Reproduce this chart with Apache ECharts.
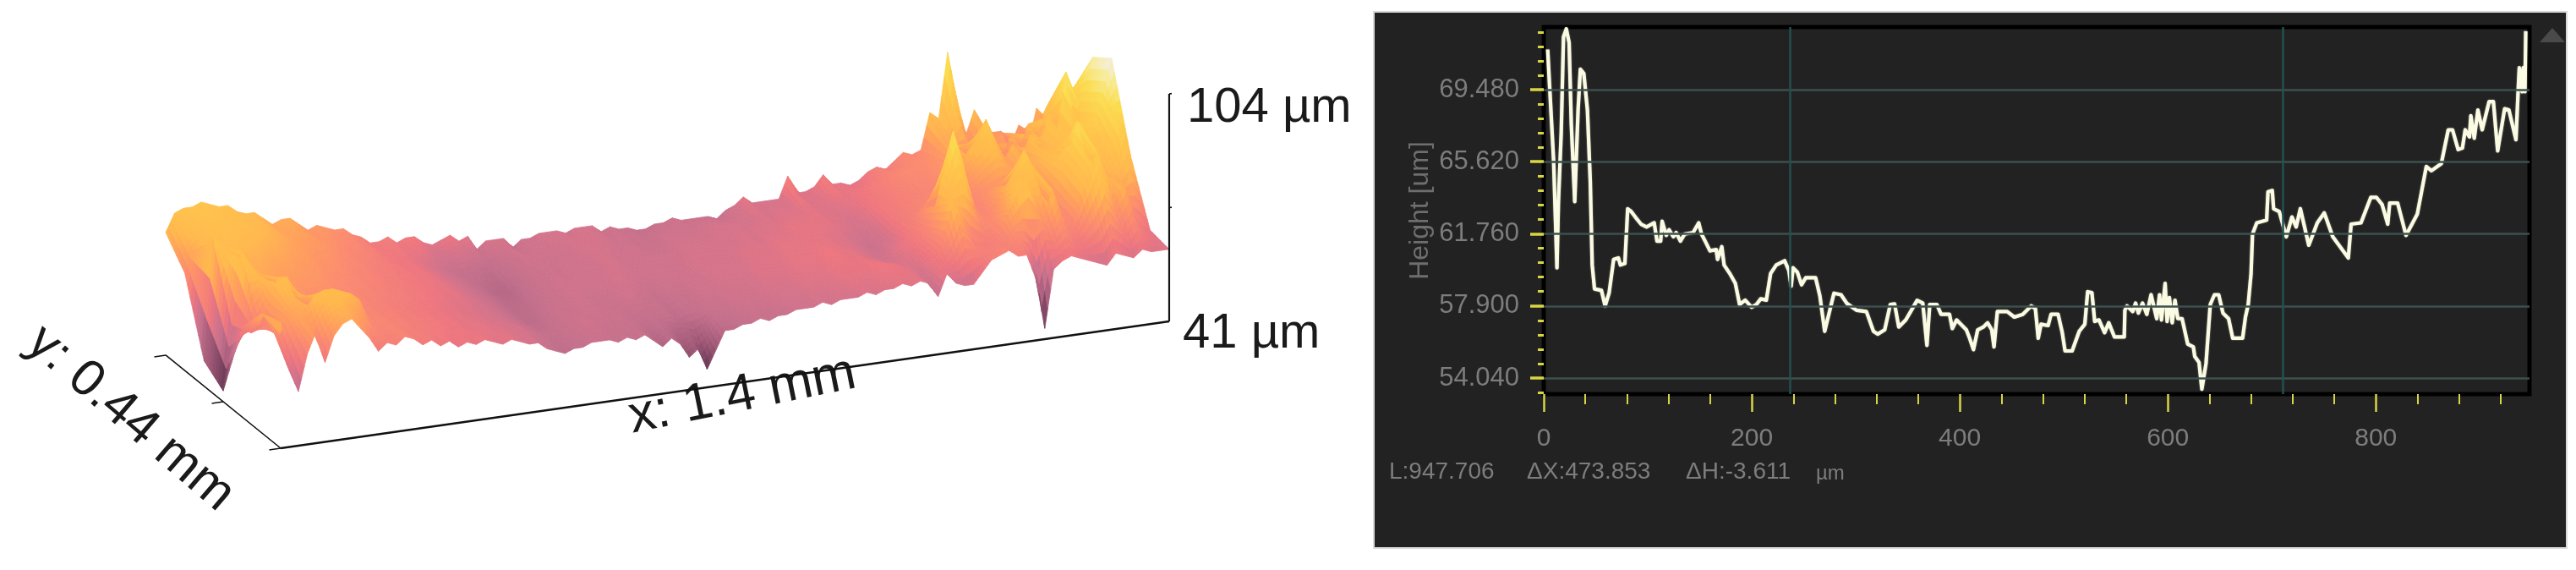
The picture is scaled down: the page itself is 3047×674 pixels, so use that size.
<!DOCTYPE html>
<html>
<head>
<meta charset="utf-8">
<style>html,body{margin:0;padding:0;background:#fff}#c{width:3047px;height:674px}</style>
<script src="https://cdn.jsdelivr.net/npm/echarts@6/dist/echarts.min.js"></script>
</head>
<body>
<div id="c"></div>
<script>
// ---------- height profile (right panel) ----------
const profileX = [3.8,6,9.5,12.7,14.1,16.8,19,21.7,24.4,26.5,29.8,33,35.2,38.5,42,44.7,46.6,48.8,55.5,59,62.8,67.2,71.8,73.7,78,80.7,84,88,93.5,98.9,106.2,108.9,112.4,113.8,117.8,120.5,124.6,127.3,131.4,135.5,143.6,149,151.7,155.8,159.8,165.8,167.1,171.2,173.4,178.8,184.2,188.3,193.7,199.9,204.5,208.6,214,218.1,223.5,231.6,235.7,237.9,239.7,243.8,247.9,251.9,261.4,265.5,270.1,279,285.8,291.2,300.7,310.2,317,321,327.8,333.2,337.3,341.3,348.1,359,364.4,368.4,371.1,377.9,382,390.1,392.8,396.9,406.3,409,413.1,417.2,422.6,426.7,430.7,432.9,436.1,445.6,452.4,460.5,468.7,472.7,475.4,478.1,484.9,487.7,494.5,498.5,501.2,508,514.8,520.2,522.9,527,529.7,533.8,539.2,543.2,548.7,558.1,558.7,560.8,566.3,569,571.7,575.7,579.8,583.9,589.3,592,593.9,597.4,599.3,601.5,604.2,606.9,609.6,613.7,619.1,624.5,625.9,630,632.7,636.7,640.8,644.8,648.9,653,658.4,662.4,671.9,674.6,677.3,680,681.4,685.5,695,696.3,700.4,701.7,707.1,713.9,719.3,723.4,727.4,735.5,743.7,750.4,758.6,773.5,776.2,785.7,795.1,800.6,806,811.4,813.3,820.9,829,839.8,843.9,848.5,853.4,862.9,869.6,873.7,879.1,883.2,885.9,890,891.3,894.6,898.1,902.2,908.9,913,917.1,923.8,927.9,934.7,936.8,937.9,940.6,941.7,943.3,944.1];
const profileH = [71.63,69.29,65.67,59.94,63.41,67.18,72.31,72.73,72,67.63,63.48,68.39,70.57,70.35,68.39,64.62,60.09,58.81,58.73,57.9,58.58,60.39,60.47,60.09,60.17,63.1,62.96,62.66,62.28,62.13,62.35,61.37,61.37,62.43,61.68,61.98,61.6,61.83,61.37,61.75,61.83,62.35,61.75,61.3,60.85,60.92,60.39,61.07,60.09,59.64,59.11,57.98,58.21,57.83,57.98,58.28,58.21,59.64,60.09,60.32,59.79,58.96,59.94,59.71,59.03,59.41,59.41,58.43,56.54,58.58,58.5,58.05,57.67,57.6,56.54,56.39,56.62,57.98,58.01,56.77,57.15,58.2,58.05,55.79,57.98,57.98,57.45,57.45,56.69,57.15,56.62,56.24,55.56,56.62,56.77,57,56.62,55.71,57.6,57.6,57.3,57.45,57.9,57.75,56.17,56.92,56.85,57.45,57.45,56.47,55.49,55.49,56.54,56.92,58.66,58.61,57.07,57.15,56.47,57,56.24,56.24,57.67,57.9,57.6,58.05,57.52,58.05,57.45,58.5,57.22,58.5,57.15,59.11,57.07,58.35,57,58.2,57.22,57.22,55.86,55.71,55.19,54.88,53.45,54.81,57.98,58.5,58.5,57.52,57.22,56.17,56.17,57.3,57.98,59.63,61.75,62.35,62.5,64.01,64.08,63.1,62.95,61.6,62.66,62.13,63.11,61.15,62.35,62.88,61.6,60.47,62.28,62.35,63.71,63.71,63.33,62.28,63.41,63.41,61.68,62.81,64.01,65.37,65.14,65.52,67.33,67.33,66.27,66.35,67.33,66.95,68.08,66.88,68.39,67.33,68.84,68.84,66.2,68.46,68.39,66.8,69.44,70.65,69.37,70.65,69.37,72.61];
const cursorX = [236.93,710.78];
const profileXTicks = [0,200,400,600,800];
const profileXMinor = [40,80,120,160,240,280,320,360,440,480,520,560,640,680,720,760,840,880,920];
const profileYTicks = [54.04,57.9,61.76,65.62,69.48];
const profileYMinor = [53.268,54.812,55.584,56.356,57.128,58.672,59.444,60.216,60.988,62.532,63.304,64.076,64.848,66.392,67.164,67.936,68.708,70.252,71.024,71.796,72.568];

// ---------- 3D surface heights in um: one array per y position, 14 um apart in x ----------
const surfaceStepX = 14;
const surfaceYs = [0,73,147,220,293,367,440];
const surfaceY0 = [76,62,56,66,72,63,70,73,74,71,68,64,66,65,67,66,64,65,63,64,62,63,62,63,62,61,62,61,60,60,58,57,56,57,57,58,58,58,57,58,57,58,56,54,56,54,50,52,46,51,56,56,57,57,58,57,58,58,59,59,59,60,59,60,60,60,61,60,61,61,62,61,62,61,57,63,60,59,59,62,65,66,67,65,65,58,44,60,62,63,62,61,60,59,62,61,60,62,61,61,61];
const surfaceY1 = [74,71,67,72,73,74,77,78,78,77,76,74,68,67,67,66,66,65,65,64,64,63,63,62,62,62,61,61,60,60,59,58,57,57,58,58,59,59,58,58,58,58,57,57,57,57,57,56,57,57,58,58,58,59,59,59,59,60,60,60,60,61,61,61,61,62,62,62,62,63,63,63,62,61,60,62,65,70,78,72,66,65,65,67,72,77,82,75,70,77,70,67,72,79,86,79,71,76,68,64,62];
const surfaceY2 = [66,64,66,72,78,78,72,70,69,68,68,67,67,67,67,66,66,65,65,64,64,63,63,62,62,61,61,60,60,59,58,57,56,56,57,58,58,58,59,59,58,58,58,59,59,58,58,57,58,58,58,59,59,59,60,60,60,60,61,61,61,61,62,62,62,62,63,63,62,62,61,60,59,60,62,63,65,67,72,82,92,84,72,68,67,70,75,79,84,79,71,68,74,82,90,80,80,74,78,87,78];
const surfaceY3 = [44,62,82,78,75,73,72,71,71,70,70,70,69,68,68,67,67,66,66,65,65,64,64,63,63,62,62,61,60,59,58,57,56,56,56,57,58,58,59,59,59,59,59,59,60,60,59,59,59,59,59,59,59,60,60,60,60,60,60,61,61,61,61,62,62,62,62,62,62,61,61,60,59,58,59,60,64,65,66,67,67,68,68,68,67,68,69,70,70,71,72,73,75,78,76,80,78,85,84,92,101];
const surfaceY4 = [48,82,79,77,76,75,75,74,73,73,72,71,71,70,69,69,68,67,67,66,65,65,64,64,63,63,62,61,60,59,58,57,56,55,55,56,57,58,58,59,58,59,59,59,59,60,60,59,59,59,59,59,59,59,60,60,60,60,60,60,60,61,60,61,61,61,62,62,62,62,62,61,61,60,60,61,64,64,65,66,66,67,67,68,70,72,76,79,84,78,72,76,72,78,74,82,78,94,80,88,97];
const surfaceY5 = [68,74,76,78,79,79,78,78,77,76,75,74,73,72,71,71,70,69,68,67,67,66,65,64,63,63,62,61,60,59,58,57,57,57,56,57,57,58,59,59,59,59,59,59,60,60,60,60,59,59,59,58,58,58,59,59,59,59,59,60,60,60,60,60,60,61,60,61,61,61,62,61,61,61,62,62,63,64,65,66,67,68,68,68,69,70,74,72,70,68,66,72,68,74,70,76,72,80,74,82,84];
const surfaceY6 = [75,80,81,81,82,81,80,80,78,77,77,75,73,74,74,72,70,71,70,69,69,67,66,64,64,65,63,64,64,62,61,62,63,61,62,58,60,60,60,57,59,59,60,60,60,59,60,60,60,58,59,58,58,57,57,58,58,59,58,58,58,58,57,59,60,62,60,60,60,60,66,61,61,62,65,62,62,61,62,64,65,64,66,68,67,68,78,76,94,78,70,77,72,70,70,65,71,64,75,69,77];
const surfaceRows = [surfaceY0,surfaceY1,surfaceY2,surfaceY3,surfaceY4,surfaceY5,surfaceY6];

// height colour scale
const colourHeights = [41,47,52,57,60,63,68,72,76,82,90,95,100,104];
const colourValues = ['#2e1530','#6d3b58','#a25a78','#c4708c','#d5738a','#ee767f','#fb8a70','#ff9f5c','#ffb84e','#ffc44b','#fbdc50','#f8ea90','#f3efe0','#f5f5f5'];

// 3D box of the plot
const zMin = 41, zMax = 104, lenX = 1400, lenY = 440;
// oblique view: how far one um of y and of x shift the plane coordinates
const skewU = 0.4117, skewVx = 0.02508, skewVy = 0.05855;
const project = (x,y,z) => [x - skewU*y, (z - zMin) + skewVx*x + skewVy*y];

function colourOf(z){
  for (let k=1;k<colourHeights.length;k++){
    if (z<=colourHeights[k]){
      const t=(z-colourHeights[k-1])/(colourHeights[k]-colourHeights[k-1]);
      return echarts.color.lerp(Math.max(0,t),[colourValues[k-1],colourValues[k]]);
    }
  }
  return colourValues[colourValues.length-1];
}

// one cell per pair of neighbours, back rows first so the front overdraws
const surfaceCells = [];
for (let j=surfaceYs.length-2;j>=0;j--) for (let i=0;i<surfaceRows[0].length-1;i++) surfaceCells.push([i,j]);

const subY = 7, subX = 3;
function renderCell(params, api){
  const i=api.value(0), j=api.value(1), children=[];
  const x0=i*surfaceStepX, x1=x0+surfaceStepX, y0=surfaceYs[j], y1=surfaceYs[j+1];
  const a=surfaceRows[j][i], b=surfaceRows[j][i+1], c=surfaceRows[j+1][i], d=surfaceRows[j+1][i+1];
  const vertex=(s,t)=>{
    const z=(a*(1-s)+b*s)*(1-t)+(c*(1-s)+d*s)*t;
    return {z, p:api.coord(project(x0+(x1-x0)*s, y0+(y1-y0)*t, z))};
  };
  for(let n=subY-1;n>=0;n--) for(let m=0;m<subX;m++){
    const q=[vertex(m/subX,n/subY),vertex((m+1)/subX,n/subY),vertex((m+1)/subX,(n+1)/subY),vertex(m/subX,(n+1)/subY)];
    const col=colourOf((q[0].z+q[1].z+q[2].z+q[3].z)/4);
    children.push({type:'polygon',shape:{points:q.map(v=>v.p)},style:{fill:col,stroke:col,lineWidth:0.8}});
  }
  return {type:'group',children};
}

// 3D frame: axis lines and their ticks, as end points [x,y,z]
const frameAxes = [
  {w:2.5, pts:[[0,0,41],[1400,0,41]]},
  {w:1.6, pts:[[0,0,41],[0,440,41]]},
  {w:2.2, pts:[[1400,0,41],[1400,0,104]]}
];
const frameTicks = [
  {w:1.6, pts:[[0,0,41],[-18,0,41]]},
  {w:1.6, pts:[[0,220,41],[-18,220,41]]},
  {w:1.6, pts:[[0,440,41],[-18,440,41]]},
  {w:1.6, pts:[[1400,0,72.5],[1404,0,72.5]]},
  {w:1.6, pts:[[1400,0,104],[1404,0,104]]}
];
const frameSeries = frameAxes.concat(frameTicks).map(f=>({
  type:'line',xAxisIndex:0,yAxisIndex:0,silent:true,animation:false,showSymbol:false,symbol:'none',z:3,
  lineStyle:{color:'#111',width:f.w},
  data:f.pts.map(p=>project(p[0],p[1],p[2]))
}));

const greyText='#7d7d7d', tickYellow='#d8d545', gridTeal='#3c514e', cursorTeal='#23504f', lineCream='#fbfbe4';
const profileXRange=[0,947.706], profileYRange=[53.18,72.83];
const font='"Liberation Sans", Arial, sans-serif';

const option={
  animation:false,
  backgroundColor:'#ffffff',
  grid:[
    {left:1.7,top:17.6,width:1411.3,height:555.1,show:false},
    {left:1826,top:32,width:1166,height:434,show:true,backgroundColor:'transparent',borderColor:'#000000',borderWidth:5}
  ],
  xAxis:[
    {type:'value',gridIndex:0,min:-440,max:1440,show:false},
    {type:'value',gridIndex:1,min:profileXRange[0],max:profileXRange[1],position:'bottom',
      axisLine:{show:false},splitLine:{show:false},
      axisTick:{show:true,length:21,customValues:profileXTicks,lineStyle:{color:tickYellow,width:2.5}},
      axisLabel:{show:true,customValues:profileXTicks,color:greyText,fontSize:30,fontFamily:font,margin:38}},
    {type:'value',gridIndex:1,min:profileXRange[0],max:profileXRange[1],position:'bottom',
      axisLine:{show:false},splitLine:{show:false},axisLabel:{show:false},
      axisTick:{show:true,length:12,customValues:profileXMinor,lineStyle:{color:tickYellow,width:2}}}
  ],
  yAxis:[
    {type:'value',gridIndex:0,min:-10,max:120,show:false},
    {type:'value',gridIndex:1,min:profileYRange[0],max:profileYRange[1],position:'left',
      name:'Height [um]',nameLocation:'middle',nameGap:130,nameRotate:90,
      nameTextStyle:{color:'#6e6e6e',fontSize:32,fontFamily:font},
      axisLine:{show:false},splitLine:{show:false},
      axisTick:{show:true,length:16,customValues:profileYTicks,lineStyle:{color:tickYellow,width:3.5}},
      axisLabel:{show:true,customValues:profileYTicks,color:greyText,fontSize:31,fontFamily:font,margin:29,
        formatter:v=>v.toFixed(3)}},
    {type:'value',gridIndex:1,min:profileYRange[0],max:profileYRange[1],position:'left',
      axisLine:{show:false},splitLine:{show:false},axisLabel:{show:false},
      axisTick:{show:true,length:7,customValues:profileYMinor,lineStyle:{color:tickYellow,width:3}}}
  ],
  graphic:[
    {type:'rect',z:-5,shape:{x:1625,y:14,width:1411,height:634},style:{fill:'#222222',stroke:'#d9d9d9',lineWidth:2}},
    {type:'polygon',z:-4,shape:{points:[[3019,33],[3004,50],[3034,50]]},style:{fill:'#4a4a4a'}},
    {type:'text',x:1643,y:558,style:{text:'L:947.706',fill:greyText,font:'28px '+font,textVerticalAlign:'middle'}},
    {type:'text',x:1806,y:558,style:{text:'\u0394X:473.853',fill:greyText,font:'28px '+font,textVerticalAlign:'middle'}},
    {type:'text',x:1994,y:558,style:{text:'\u0394H:-3.611',fill:greyText,font:'28px '+font,textVerticalAlign:'middle'}},
    {type:'text',x:2148,y:560,style:{text:'\u00b5m',fill:greyText,font:'24px '+font,textVerticalAlign:'middle'}},
    {type:'text',x:1404,y:128,style:{text:'104 \u00b5m',fill:'#1a1a1a',font:'58px '+font,textVerticalAlign:'middle'}},
    {type:'text',x:1399,y:395,style:{text:'41 \u00b5m',fill:'#1a1a1a',font:'58px '+font,textVerticalAlign:'middle'}},
    {type:'text',x:878,y:468,rotation:0.2,style:{text:'x: 1.4 mm',fill:'#1a1a1a',font:'62px '+font,textAlign:'center',textVerticalAlign:'middle'}},
    {type:'text',x:154,y:495,rotation:-0.71,style:{text:'y: 0.44 mm',fill:'#1a1a1a',font:'61px '+font,textAlign:'center',textVerticalAlign:'middle'}}
  ],
  series:[
    {type:'custom',xAxisIndex:0,yAxisIndex:0,coordinateSystem:'cartesian2d',data:surfaceCells,renderItem:renderCell,
      silent:true,animation:false,progressive:0,z:2,clip:false,encode:{x:0,y:1}},
    ...frameSeries,
    {type:'line',xAxisIndex:1,yAxisIndex:1,data:[],silent:true,z:2,
      markLine:{silent:true,symbol:'none',animation:false,label:{show:false},
        lineStyle:{color:gridTeal,width:2.5,type:'solid'},data:profileYTicks.map(v=>({yAxis:v}))}},
    {type:'line',xAxisIndex:1,yAxisIndex:1,data:[],silent:true,z:2,
      markLine:{silent:true,symbol:'none',animation:false,label:{show:false},
        lineStyle:{color:cursorTeal,width:2.5,type:'solid'},data:cursorX.map(v=>({xAxis:v}))}},
    {type:'line',xAxisIndex:1,yAxisIndex:1,showSymbol:false,symbol:'none',z:4,silent:true,animation:false,
      lineStyle:{color:lineCream,width:4.2,join:'round',shadowBlur:2,shadowColor:'rgba(251,251,228,0.5)'},
      data:profileX.map((x,k)=>[x,profileH[k]])}
  ]
};
const chart=echarts.init(document.getElementById('c'),null,{renderer:'canvas',width:3047,height:674});
chart.setOption(option);
</script>
</body>
</html>
